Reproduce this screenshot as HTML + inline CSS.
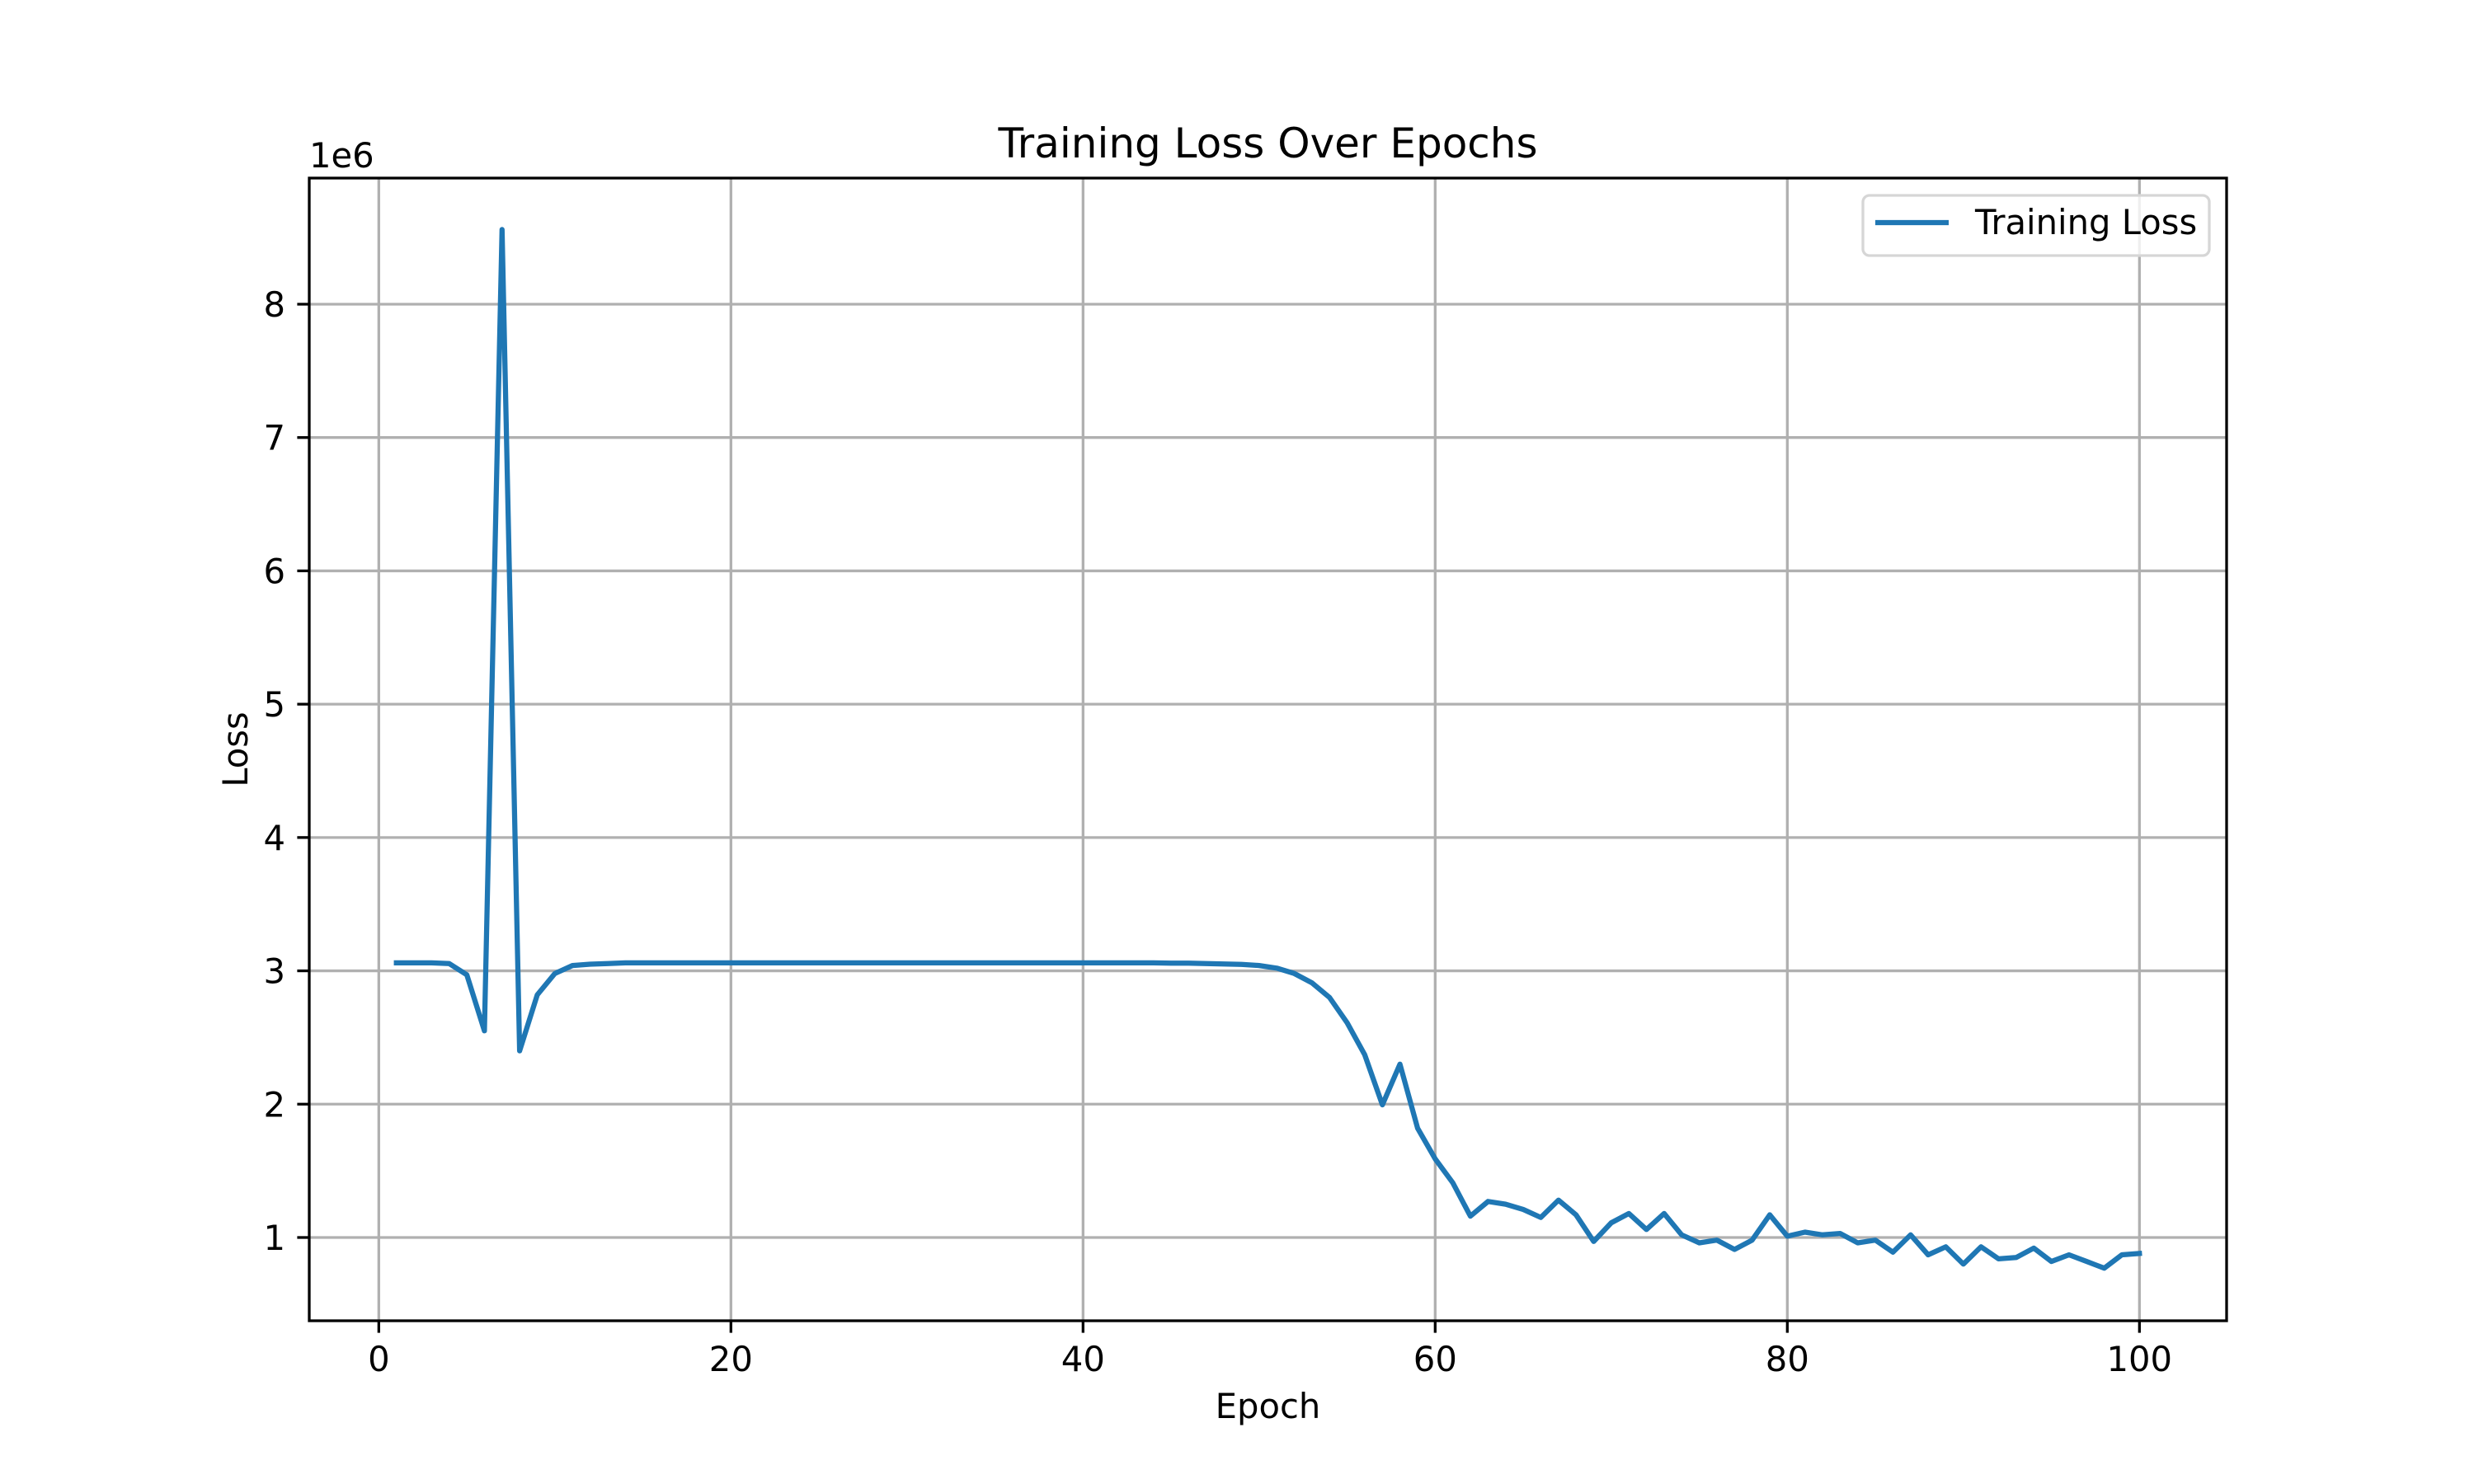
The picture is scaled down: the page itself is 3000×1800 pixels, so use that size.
<!DOCTYPE html>
<html><head><meta charset="utf-8"><style>
html,body{margin:0;padding:0;background:#fff}
svg{display:block;font-family:"DejaVu Sans","Liberation Sans",sans-serif}
</style></head><body>
<svg id="chart" width="3000" height="1800" viewBox="0 0 3000 1800" xmlns="http://www.w3.org/2000/svg">
<rect width="3000" height="1800" fill="#fff"/>
<g id="grid"></g>
<g id="ticks"></g>
<path id="line" fill="none" stroke="#1f77b4" stroke-width="6.25" stroke-linejoin="round" stroke-linecap="square"/>
<rect x="375" y="216" width="2325" height="1386" fill="none" stroke="#000" stroke-width="3.3"/>
<text x="1537.5" y="191" font-size="50" text-anchor="middle">Training Loss Over Epochs</text>
<text x="1537.5" y="1720" font-size="41.7" text-anchor="middle">Epoch</text>
<text transform="translate(300,909) rotate(-90)" font-size="41.7" text-anchor="middle">Loss</text>
<text x="375" y="203" font-size="41.7">1e6</text>
<g>
<rect x="2259" y="237" width="420" height="73" rx="8" fill="#fff" fill-opacity="0.8" stroke="#d6d6d6" stroke-width="3.3"/>
<line x1="2274" y1="270" x2="2363" y2="270" stroke="#1f77b4" stroke-width="6.25"/>
<text x="2395" y="284" font-size="41.7">Training Loss</text>
</g>
</svg>
<script>
const epochs = Array.from({length:100},(_,i)=>i+1);
const lossValues = [3.06,3.06,3.06,3.055,2.97,2.55,8.56,2.40,2.82,2.98,3.04,3.05,3.055,3.06,3.06,3.06,3.06,3.06,3.06,3.06,3.06,3.06,3.06,3.06,3.06,3.06,3.06,3.06,3.06,3.06,3.06,3.06,3.06,3.06,3.06,3.06,3.06,3.06,3.06,3.06,3.06,3.06,3.06,3.06,3.058,3.057,3.055,3.052,3.048,3.04,3.02,2.98,2.91,2.80,2.61,2.37,1.995,2.30,1.82,1.59,1.41,1.16,1.27,1.25,1.21,1.15,1.28,1.17,0.97,1.11,1.18,1.06,1.18,1.02,0.96,0.98,0.91,0.98,1.17,1.01,1.04,1.02,1.03,0.96,0.98,0.89,1.02,0.87,0.93,0.80,0.93,0.84,0.85,0.92,0.82,0.87,0.82,0.77,0.87,0.88];
const xTicks = [0,20,40,60,80,100];
const yTicks = [1,2,3,4,5,6,7,8];
const L=375,R=2700,T=216,B=1602;
const xMin=-3.95,xMax=104.95,yMin=0.3754,yMax=8.946;
const sx=v=>L+(v-xMin)/(xMax-xMin)*(R-L);
const sy=v=>B-(v-yMin)/(yMax-yMin)*(B-T);
const NS='http://www.w3.org/2000/svg';
const grid=document.getElementById('grid'),ticks=document.getElementById('ticks');
function mk(tag,attrs,parent){const e=document.createElementNS(NS,tag);for(const k in attrs)e.setAttribute(k,attrs[k]);parent.appendChild(e);return e;}
xTicks.forEach(v=>{
  const x=sx(v);
  const g=mk('line',{x1:x,x2:x,y1:T,y2:B,stroke:'#b0b0b0','stroke-width':3.3},grid);
  
  
  const t=mk('line',{x1:x,x2:x,y1:B,y2:B+14.6,stroke:'#000','stroke-width':3.3},ticks);
  
  
  const l=mk('text',{x:x,y:B+61,'font-size':41.7,'text-anchor':'middle'},ticks);
  l.textContent=v;
  
  
});
yTicks.forEach(v=>{
  const y=sy(v);
  const g=mk('line',{x1:L,x2:R,y1:y,y2:y,stroke:'#b0b0b0','stroke-width':3.3},grid);
  
  
  const t=mk('line',{x1:L-14.6,x2:L,y1:y,y2:y,stroke:'#000','stroke-width':3.3},ticks);
  
  
  const l=mk('text',{x:L-29,y:y+15,'font-size':41.7,'text-anchor':'end'},ticks);
  l.textContent=v;
  
  
});
document.getElementById('line').setAttribute('d',epochs.map((e,i)=>(i?'L':'M')+sx(e).toFixed(1)+','+sy(lossValues[i]).toFixed(1)).join(''));
</script>
</body></html>
